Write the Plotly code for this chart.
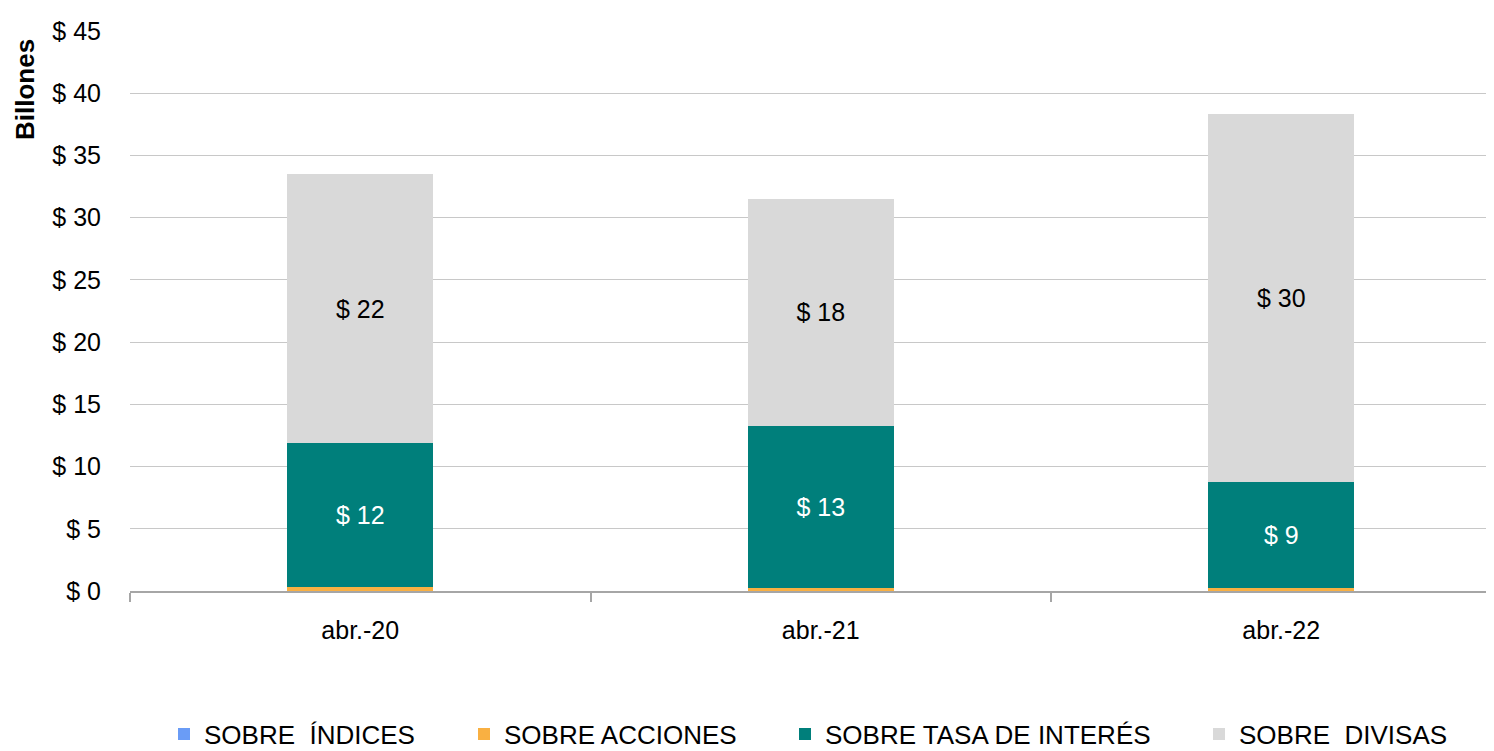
import plotly.graph_objects as go

categories = ["abr.-20", "abr.-21", "abr.-22"]
sobre_indices = [0.02, 0.02, 0.02]
sobre_acciones = [0.30, 0.25, 0.20]
sobre_tasa = [11.55, 13.0, 8.56]
sobre_divisas = [21.6, 18.25, 29.58]

series_names = ["SOBRE  ÍNDICES", "SOBRE ACCIONES", "SOBRE TASA DE INTERÉS", "SOBRE  DIVISAS"]
colors = ["#6A9CF6", "#F9B042", "#007F7B", "#D9D9D9"]

FONT = "Liberation Sans Narrow, Arial Narrow, Liberation Sans, Arial, sans-serif"

fig = go.Figure()
values = [sobre_indices, sobre_acciones, sobre_tasa, sobre_divisas]
legend_ids = ["legend", "legend2", "legend3", "legend4"]
for i, (name, vals, col) in enumerate(zip(series_names, values, colors)):
    show_text = i >= 2
    fig.add_trace(go.Bar(
        x=categories, y=vals, name=name,
        marker=dict(color=col, line=dict(width=0)),
        width=0.317,
        texttemplate="$ %{y:.0f}" if show_text else None,
        textposition="inside" if show_text else "none",
        insidetextanchor="middle",
        textangle=0,
        insidetextfont=dict(family=FONT, size=25, color="white" if i == 2 else "black"),
        legend=legend_ids[i],
        showlegend=True,
        hoverinfo="skip",
    ))

# page has an 8px body margin; figure coordinates are page - 8
W, H = 1486, 743
L, R, T = 122, 0, 23
PH = 560
B = H - T - PH
pw = W - L - R

legend_x = [156, 456, 777, 1191]
layout_legends = {}
for lid, lx in zip(legend_ids, legend_x):
    layout_legends[lid] = dict(
        x=lx / W, xref="container", y=1 - 726 / H, yref="container",
        xanchor="left", yanchor="middle",
        orientation="h", font=dict(family=FONT, size=26, color="black"),
        bgcolor="rgba(0,0,0,0)", itemclick=False, itemdoubleclick=False,
    )

fig.update_layout(
    width=W, height=H,
    barmode="stack",
    showlegend=True,
    plot_bgcolor="white", paper_bgcolor="white",
    margin=dict(l=L, r=R, t=T, b=B, autoexpand=False),
    font=dict(family=FONT, size=25, color="black"),
    uniformtext=dict(minsize=10, mode="show"),
    **layout_legends,
)

fig.update_xaxes(
    type="category",
    range=[-0.5, -0.5 + pw / 460.5],
    showline=True, linecolor="#A6A6A6", linewidth=1.5,
    tickson="boundaries", ticks="outside", ticklen=9, tickcolor="#A6A6A6", tickwidth=1.5,
    showgrid=False,
    tickfont=dict(family=FONT, size=25, color="black"),
    ticklabelstandoff=16,
)
fig.update_yaxes(
    range=[0, 45], dtick=5, tickprefix="$ ",
    showgrid=True, gridcolor="#C8C8C8", gridwidth=1.2,
    zeroline=False, showline=False,
    ticks="", ticklabelstandoff=28,
    tickfont=dict(family=FONT, size=25, color="black"),
)

fig.add_annotation(
    text="<b>Billones</b>", textangle=-90,
    x=(17 - L) / pw, xref="paper", xanchor="center",
    y=1 - (82 - T) / PH, yref="paper", yanchor="middle",
    showarrow=False, font=dict(family=FONT, size=26, color="black"),
)

fig.write_html("out.html")
